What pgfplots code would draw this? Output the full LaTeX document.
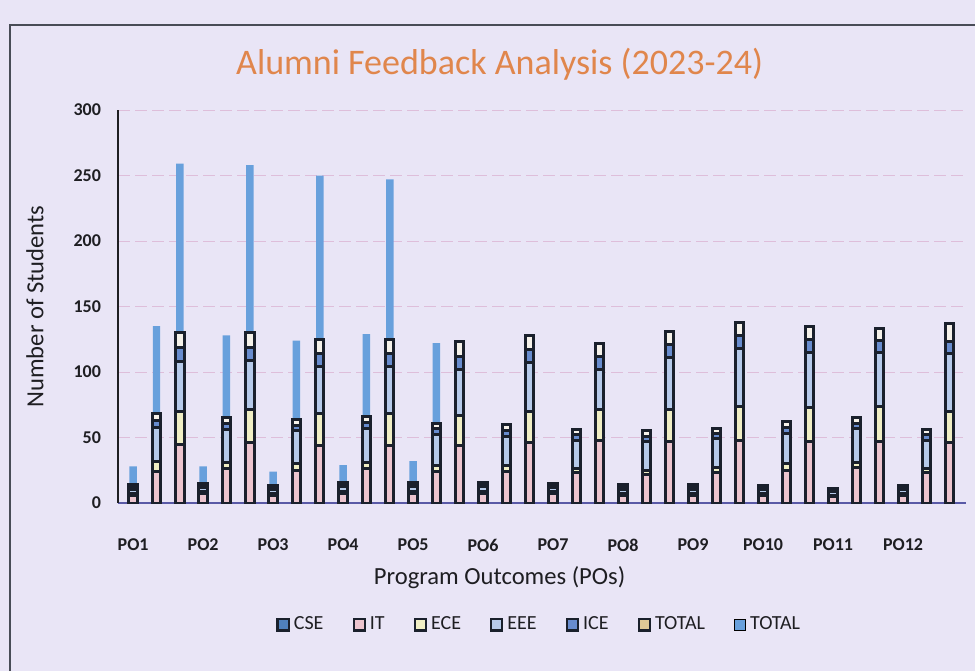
\documentclass[border=0pt]{standalone}
\usepackage{fontspec}
\setmainfont{Carlito}
\usepackage{pgfplots}
\pgfplotsset{compat=1.18}
\usepackage{pgfplotstable}

\definecolor{bg}{RGB}{233,229,246}
\definecolor{edge}{RGB}{26,32,44}
\definecolor{cse}{RGB}{79,129,189}
\definecolor{itc}{RGB}{236,196,206}
\definecolor{ece}{RGB}{240,238,196}
\definecolor{eee}{RGB}{182,202,234}
\definecolor{ice}{RGB}{104,140,206}
\definecolor{tot}{RGB}{246,242,234}
\definecolor{totleg}{RGB}{222,200,150}
\definecolor{tot2}{RGB}{104,160,220}
\definecolor{gridc}{RGB}{222,190,218}
\definecolor{titlec}{RGB}{224,134,76}
\definecolor{txt}{RGB}{30,30,34}

\pgfplotstableread{
x IT ECE EEE ICE TOT TOTB
0 6 1.5 3 1.5 2 14
1 24 8 26 5 5 67
2 45 25 38 11 11 129
3 7 1.5 3 1.5 2 13
4 26 5 25 4.5 4.5 63
5 46 25 38 10 11 128
6 6 1 3 1.5 1.5 11
7 25 5 25 4.5 4.5 60
8 44 24 36 10 11 125
9 7 2 3.5 1.5 2 13
10 26 5 26 4.5 4.5 63
11 44 24 36 10 11 122
12 7 2 3.5 1.5 2 16
13 24 5 23 4.5 4.5 61
14 44 23 35 10 11 0
15 7 2 3.5 1.5 2 0
16 24 5 22 4.5 4.5 0
17 46 24 37 10 11 0
18 7 1.5 3 1.5 2 0
19 23 3 22 4 4 0
20 48 23 31 10 10 0
21 6 1.5 3 1.5 2 0
22 22 3 22 4 4 0
23 47 24 40 10 10 0
24 6 1.5 3 1.5 2 0
25 23 4 22 4 4 0
26 48 26 44 10 10 0
27 6 1 3 1.5 1.5 0
28 25 5 23 4.5 4.5 0
29 47 26 42 10 10 0
30 5 1 2.5 1 1.5 0
31 27 4 26 4 4 0
32 47 27 41 9 9 0
33 6 1 3 1.5 1.5 0
34 23 3 22 4 4 0
35 46 24 44 9 14 0
}\datatable

\begin{document}
\begin{tikzpicture}
\useasboundingbox (0,0) rectangle (487.5pt,335.5pt);
\fill[bg] (0,0) rectangle (487.5pt,335.5pt);
\draw[edge!80, line width=0.8pt] (5pt,0) -- (5pt,323pt) -- (487.5pt,323pt);
\begin{axis}[
  at={(59pt,84pt)}, anchor=south west,
  scale only axis, width=424pt, height=196.5pt,
  xmin=-0.65, xmax=35.7, ymin=0, ymax=300,
  ybar stacked, bar width=0.36,
  axis x line*=bottom, axis y line*=left,
  x axis line style={draw=gray!70!blue, line width=0.8pt, -},
  y axis line style={draw=txt, line width=0.7pt, -},
  major tick length=0pt,
  xtick={0,3,...,33},
  xticklabels={PO1,PO2,PO3,PO4,PO5,PO6,PO7,PO8,PO9,PO10,PO11,PO12},
  ytick={0,50,...,300},
  ymajorgrids,
  grid style={gridc, line width=0.5pt, dash pattern=on 6pt off 2.5pt},
  tick label style={font=\fontsize{9}{10}\selectfont\bfseries, text=txt},
  xticklabel style={yshift=-14.5pt},
  yticklabel style={xshift=-5pt},
  /pgf/number format/assume math mode=true,
  title={Alumni Feedback Analysis (2023-24)},
  title style={at={(axis description cs:0.45,1.086)}, anchor=center,
    font=\fontsize{18}{20}\selectfont, text=titlec},
  xlabel={Program Outcomes (POs)},
  xlabel style={at={(axis description cs:0.45,-0.191)}, anchor=center,
    font=\fontsize{12.3}{14}\selectfont, text=txt},
  ylabel={Number of Students},
  ylabel style={at={(axis description cs:-0.098,0.5)}, anchor=center,
    font=\fontsize{12.3}{14}\selectfont, text=txt},
  legend style={at={(axis description cs:0.498,-0.31)}, anchor=center,
    draw=none, fill=none, legend columns=-1,
    font=\fontsize{10}{11}\selectfont, text=txt,
    /tikz/every even column/.append style={column sep=12.5pt}},
  legend image code/.code={\draw[#1] (0pt,-2.8pt) rectangle (5.6pt,2.8pt);},
]
\addlegendimage{fill=cse, draw=edge, line width=1.1pt}
\addlegendentry{CSE}
\addlegendimage{fill=itc, draw=edge, line width=1.1pt}
\addlegendentry{IT}
\addlegendimage{fill=ece, draw=edge, line width=1.1pt}
\addlegendentry{ECE}
\addlegendimage{fill=eee, draw=edge, line width=1.1pt}
\addlegendentry{EEE}
\addlegendimage{fill=ice, draw=edge, line width=1.1pt}
\addlegendentry{ICE}
\addlegendimage{fill=totleg, draw=edge, line width=1.1pt}
\addlegendentry{TOTAL}
\addlegendimage{fill=tot2, draw=none}
\addlegendentry{TOTAL}

\addplot+[forget plot, fill=itc, draw=edge, line width=1.5pt] table[x=x, y=IT] {\datatable};
\addplot+[forget plot, fill=ece, draw=edge, line width=1.5pt] table[x=x, y=ECE] {\datatable};
\addplot+[forget plot, fill=eee, draw=edge, line width=1.5pt] table[x=x, y=EEE] {\datatable};
\addplot+[forget plot, fill=ice, draw=edge, line width=1.5pt] table[x=x, y=ICE] {\datatable};
\addplot+[forget plot, fill=tot, draw=edge, line width=1.5pt] table[x=x, y=TOT] {\datatable};
\addplot+[forget plot, fill=tot2, draw=none, bar width=0.32] table[x=x, y=TOTB] {\datatable};
\end{axis}
\end{tikzpicture}
\end{document}
